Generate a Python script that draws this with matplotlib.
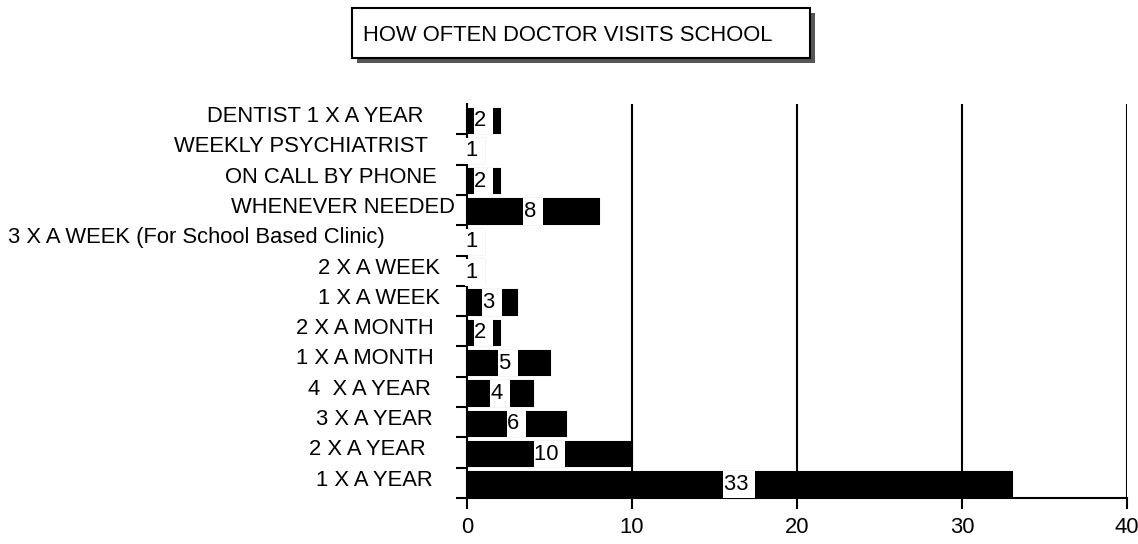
import matplotlib
matplotlib.use("Agg")
import matplotlib.pyplot as plt
import matplotlib.transforms as mtransforms
from matplotlib.patches import Rectangle
from matplotlib.path import Path
import numpy as np

plt.rcParams['font.family'] = ['Liberation Sans', 'DejaVu Sans']

categories = ["1 X A YEAR", "2 X A YEAR", "3 X A YEAR", "4  X A YEAR", "1 X A MONTH",
              "2 X A MONTH", "1 X A WEEK", "2 X A WEEK",
              "3 X A WEEK (For School Based Clinic)", "WHENEVER NEEDED",
              "ON CALL BY PHONE", "WEEKLY PSYCHIATRIST", "DENTIST 1 X A YEAR"]
values = [33, 10, 6, 4, 5, 2, 3, 1, 1, 8, 2, 1, 2]
xticks = [0, 10, 20, 30, 40]
title = "HOW OFTEN DOCTOR VISITS SCHOOL"

# horizontal offsets (pixels) of each category label's right edge, as in the reference
label_dx = [-4, -11, -4, -6, -3, -3, 3, 3, -52, 18, 0, -9, -14]

FS = 15.8
W, H = 1138, 544
fig = plt.figure(figsize=(W / 100, H / 100), dpi=100)
ax = fig.add_axes([467 / W, 1 - 498 / H, (1127 - 467) / W, (498 - 104) / H])


def label_box(x0, y0, width, height, mutation_size):
    padx = 0.03 * mutation_size
    pady = 0.13 * mutation_size
    x0, x1 = x0 - padx, x0 + width + padx
    y0, y1 = y0 - pady, y0 + height + pady
    return Path([(x0, y0), (x1, y0), (x1, y1), (x0, y1), (x0, y0)], closed=True)


n = len(categories)
pos = np.arange(n)
ax.barh(pos - 0.45, values, height=0.8, align='edge', color='black',
        edgecolor='black', linewidth=1.5, zorder=3)
for p, v in zip(pos, values):
    ax.text(v / 2, p - 0.05, f"{v} ", ha='center', va='center', fontsize=FS, zorder=4,
            bbox=dict(boxstyle=label_box, facecolor='white', edgecolor='none'))

ax.set_xlim(0, 40)
ax.set_ylim(-0.5, n - 0.5)
for x in xticks[1:]:
    ax.axvline(x, color='black', lw=1.5, zorder=1)

ax.set_xticks(xticks)
ax.set_xticklabels([str(x) for x in xticks], fontsize=FS)
ax.tick_params(axis='x', length=8, width=1.5, pad=6, direction='out')

ax.set_yticks([])
ax.set_yticks(np.arange(-0.5, n - 1, 1.0), minor=True)
ax.tick_params(axis='y', which='minor', length=8, width=1.5, direction='out')
ytrans = ax.get_yaxis_transform()
for p, lab, dx in zip(pos, categories, label_dx):
    tr = mtransforms.offset_copy(ytrans, fig=fig, x=(-30 + dx), y=0, units='dots')
    ax.text(0, p + 0.17, lab, transform=tr, ha='right', va='center_baseline', fontsize=FS)

for s in ['top', 'right']:
    ax.spines[s].set_visible(False)
for s in ['left', 'bottom']:
    ax.spines[s].set_linewidth(1.5)
    ax.spines[s].set_color('black')

# title box with shadow
bx0, by0, bx1, by1 = 352, 8, 810, 58
sh = 5
fig.patches.append(Rectangle(((bx0 + sh) / W, 1 - (by1 + sh) / H), (bx1 - bx0) / W, (by1 - by0) / H,
                             transform=fig.transFigure, facecolor='#555555', edgecolor='none', zorder=1))
fig.patches.append(Rectangle((bx0 / W, 1 - by1 / H), (bx1 - bx0) / W, (by1 - by0) / H,
                             transform=fig.transFigure, facecolor='white', edgecolor='black', lw=1.5, zorder=2))
fig.text(363 / W, 1 - 33 / H, title, ha='left', va='center_baseline', fontsize=FS, zorder=3)

fig.savefig("out.png", dpi=100)
